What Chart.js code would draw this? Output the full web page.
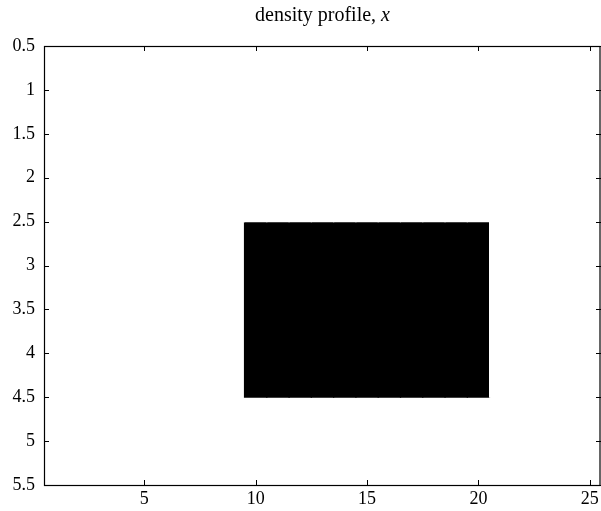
<!DOCTYPE html>
<html>
<head>
<meta charset="utf-8">
<script src="https://cdn.jsdelivr.net/npm/chart.js@4"></script>
<style>
  html, body { margin: 0; padding: 0; background: #fff; }
  #wrap { width: 601px; height: 511px; }
</style>
</head>
<body>
<div id="wrap"><canvas id="densityChart"></canvas></div>
<script>
// image cells: rows 1..5 (top to bottom), columns 1..25
const columns = [1, 2, 3, 4, 5, 6, 7, 8, 9, 10, 11, 12, 13, 14, 15, 16, 17, 18, 19, 20, 21, 22, 23, 24, 25];
const rows = [1, 2, 3, 4, 5];
const row1 = [0, 0, 0, 0, 0, 0, 0, 0, 0, 0, 0, 0, 0, 0, 0, 0, 0, 0, 0, 0, 0, 0, 0, 0, 0];
const row2 = [0, 0, 0, 0, 0, 0, 0, 0, 0, 0, 0, 0, 0, 0, 0, 0, 0, 0, 0, 0, 0, 0, 0, 0, 0];
const row3 = [0, 0, 0, 0, 0, 0, 0, 0, 0, 1, 1, 1, 1, 1, 1, 1, 1, 1, 1, 1, 0, 0, 0, 0, 0];
const row4 = [0, 0, 0, 0, 0, 0, 0, 0, 0, 1, 1, 1, 1, 1, 1, 1, 1, 1, 1, 1, 0, 0, 0, 0, 0];
const row5 = [0, 0, 0, 0, 0, 0, 0, 0, 0, 0, 0, 0, 0, 0, 0, 0, 0, 0, 0, 0, 0, 0, 0, 0, 0];
const xTicks = [5, 10, 15, 20, 25];
const yTicks = [0.5, 1, 1.5, 2, 2.5, 3, 3.5, 4, 4.5, 5, 5.5];

const grid = [row1, row2, row3, row4, row5];
const fontFamily = "'Liberation Serif', 'DejaVu Serif', serif";

function cellColor(v) {
    const g = Math.round(255 * (1 - v));
    return `rgb(${g},${g},${g})`;
}

const datasets = rows.map((r, i) => ({
    label: "row " + r,
    data: columns.map(c => ({ x: c, y: [r - 0.5, r + 0.5] })),
    backgroundColor: grid[i].map(cellColor),
    borderWidth: 0,
    inflateAmount: 0.6,
    barPercentage: 1,
    categoryPercentage: 1,
    grouped: false
}));

// inside tick marks on all four sides + box + title with italic x
const framePlugin = {
    id: "frame",
    afterDraw(chart) {
        const ctx = chart.ctx;
        const a = chart.chartArea;
        const sx = chart.scales.x;
        const sy = chart.scales.y;
        const len = 5;
        ctx.save();
        ctx.strokeStyle = "#000";
        ctx.lineWidth = 1;
        ctx.beginPath();
        xTicks.forEach(t => {
            const px = Math.round(sx.getPixelForValue(t)) + 0.5;
            ctx.moveTo(px, a.bottom);
            ctx.lineTo(px, a.bottom - len);
            ctx.moveTo(px, a.top);
            ctx.lineTo(px, a.top + len);
        });
        yTicks.forEach(t => {
            const py = Math.round(sy.getPixelForValue(t)) + 0.5;
            ctx.moveTo(a.left, py);
            ctx.lineTo(a.left + len, py);
            ctx.moveTo(a.right, py);
            ctx.lineTo(a.right - len, py);
        });
        ctx.stroke();
        ctx.lineWidth = 1.2;
        ctx.strokeRect(Math.round(a.left) + 0.5, Math.round(a.top) + 0.5,
            Math.round(a.right - a.left) - 1.5, Math.round(a.bottom - a.top));

        // title
        const part1 = "density profile, ";
        const part2 = "x";
        const size = 20;
        ctx.fillStyle = "#000";
        ctx.textBaseline = "middle";
        ctx.font = size + "px " + fontFamily;
        const w1 = ctx.measureText(part1).width;
        ctx.font = "italic " + size + "px " + fontFamily;
        const w2 = ctx.measureText(part2).width;
        const x0 = (a.left + a.right) / 2 - (w1 + w2) / 2;
        ctx.textAlign = "left";
        ctx.font = size + "px " + fontFamily;
        ctx.fillText(part1, x0, 16);
        ctx.font = "italic " + size + "px " + fontFamily;
        ctx.fillText(part2, x0 + w1, 16);
        ctx.restore();
    }
};

new Chart(document.getElementById("densityChart"), {
    type: "bar",
    data: { datasets: datasets },
    options: {
        responsive: true,
        maintainAspectRatio: false,
        animation: false,
        events: [],
        layout: { padding: 0 },
        plugins: {
            legend: { display: false },
            tooltip: { enabled: false },
            title: { display: false }
        },
        scales: {
            x: {
                type: "linear",
                position: "bottom",
                min: 0.5,
                max: 25.5,
                offset: false,
                afterBuildTicks: s => { s.ticks = xTicks.map(v => ({ value: v })); },
                afterFit: s => { s.height = 26; s.paddingLeft = 0; s.paddingRight = 0; },
                grid: { display: false, drawTicks: false },
                border: { display: false },
                ticks: {
                    color: "#000",
                    padding: 3,
                    maxRotation: 0,
                    font: { family: fontFamily, size: 18 }
                }
            },
            x2: {
                type: "linear",
                position: "top",
                min: 0.5,
                max: 25.5,
                afterFit: s => { s.height = 46; s.paddingLeft = 0; s.paddingRight = 0; },
                grid: { display: false, drawTicks: false },
                border: { display: false },
                ticks: { display: false }
            },
            y: {
                type: "linear",
                position: "left",
                reverse: true,
                min: 0.5,
                max: 5.5,
                afterBuildTicks: s => { s.ticks = yTicks.map(v => ({ value: v })); },
                afterFit: s => { s.width = 44; s.paddingTop = 0; s.paddingBottom = 0; },
                grid: { display: false, drawTicks: false },
                border: { display: false },
                ticks: {
                    color: "#000",
                    padding: 9,
                    font: { family: fontFamily, size: 18 },
                    callback: v => String(v)
                }
            },
            y2: {
                type: "linear",
                position: "right",
                min: 0.5,
                max: 5.5,
                afterFit: s => { s.width = 0; },
                grid: { display: false, drawTicks: false },
                border: { display: false },
                ticks: { display: false }
            }
        }
    },
    plugins: [framePlugin]
});
</script>
</body>
</html>
